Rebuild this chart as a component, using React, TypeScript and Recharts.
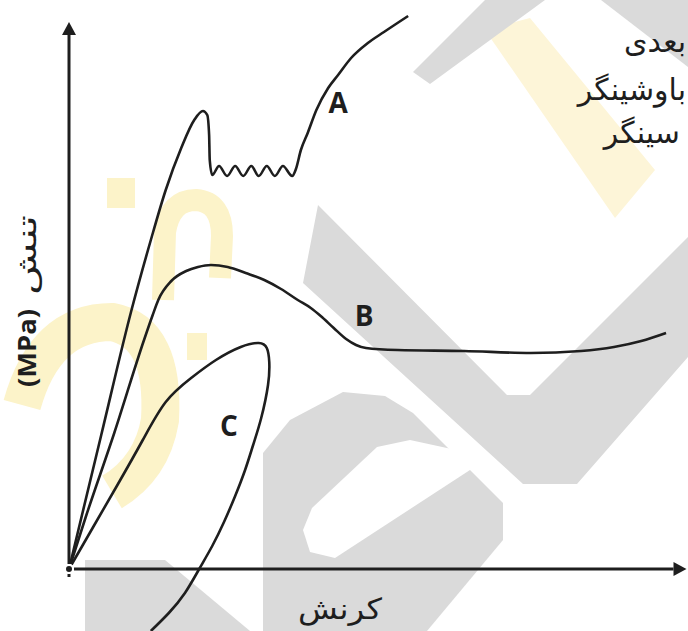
import React from 'react';
import { ComposedChart, Line, XAxis, YAxis, ReferenceLine, ReferenceDot } from 'recharts';

// strain / stress values (arbitrary units)
const strainA = [0, 5.2, 10.0, 13.2, 15.6, 18.1, 20.2, 21.6, 22.3, 22.6, 22.7, 23.1, 24.2, 25.5, 26.8, 28.1, 29.4, 30.6, 31.9, 33.2, 34.5, 36.0, 36.6, 37.4, 38.5, 39.9, 41.8, 43.4, 45.5, 48.2, 50.8, 54.7];
const stressA = [0, 67, 128.5, 164.5, 189.5, 210.5, 224.5, 229, 227, 217, 204.5, 197, 201.5, 196.5, 201.5, 196.5, 201.5, 196.5, 201.5, 196.5, 201.5, 196.5, 200, 209.5, 218, 229.5, 240.5, 247, 255.5, 263, 268.5, 276.5];

const strainB = [0, 2.7, 7.3, 12.1, 13.5, 14.4, 16.5, 18.9, 20.8, 22.9, 25.6, 28.5, 31.5, 34.2, 36.9, 39.0, 40.6, 42.7, 44.7, 46.3, 47.9, 53.0, 63.7, 74.5, 82.6, 87.9, 92.3, 96.3];
const stressB = [0, 26, 68, 114.5, 127, 134.5, 144, 149, 151, 152, 151, 148, 144.5, 140, 134.5, 130.5, 126.5, 120.5, 115, 112, 110.5, 109.5, 109, 108, 109, 111, 114, 118];

const strainC = [0, 3.9, 7.9, 11.9, 15.6, 19.7, 23.7, 27.7, 30.6, 31.9, 32.3, 32.1, 31.0, 29.7, 28.4, 26.8, 25.0, 23.1, 21.0, 18.7, 16.1, 13.2];
const stressC = [0, 21, 42.5, 64.5, 83.5, 95.5, 104.5, 111, 113, 110.5, 103.5, 92, 75.5, 62, 49.5, 36.5, 23.5, 11.5, 0, -12, -22, -31];

const curveNames = ['A', 'B', 'C'];
const curveLabelX = [43.4, 47.6, 25.8];
const curveLabelY = [233.5, 127, 72];

// fragment of the caption text at the top right
const captionLines = ['بعدی', 'باوشینگر', 'سینگر'];

const toPoints = (xs: number[], ys: number[]) => xs.map((x, i) => ({ x, y: ys[i] }));

const dataA = toPoints(strainA, stressA);
const dataB = toPoints(strainB, stressB);
const dataC = toPoints(strainC, stressC);

const INK = '#1e1e1e';
const ARABIC = '"DejaVu Sans", sans-serif';
const LATIN = '"Open Sans", sans-serif';

const arrowLine = (dir: 'right' | 'up') => (p: any) => {
  const { x1, y1, x2, y2 } = p;
  const len = 13;
  const half = 7;
  const head = dir === 'right'
    ? `${x2 + len},${y2} ${x2},${y2 - half} ${x2},${y2 + half}`
    : `${x2},${y2 - len} ${x2 - half},${y2} ${x2 + half},${y2}`;
  return (
    <g>
      <line x1={x1} y1={y1} x2={x2} y2={y2} stroke={INK} strokeWidth={3} />
      <polygon points={head} fill={INK} />
    </g>
  );
};

// stretched text drawn at a reference point (used for the axis titles)
const titleShape = (text: string, font: string, size: number, weight: number, length: number, angle: number) => (p: any) => (
  <text x={p.cx} y={p.cy} transform={angle ? `rotate(${angle} ${p.cx} ${p.cy})` : undefined}
    textAnchor="middle" dominantBaseline="central" fontFamily={font} fontSize={size} fontWeight={weight}
    textLength={length} lengthAdjust="spacingAndGlyphs" fill={INK}>
    {text}
  </text>
);

function Watermark() {
  const grey = '#dadada';
  const yellow = '#fcf3c9';
  return (
    <svg width={688} height={631} style={{ position: 'absolute', left: 0, top: 0 }}>
      <polygon points="485,30 530,18 655,170 615,218" fill="#fdf5d8" />
      <rect x={107} y={178} width={28} height={30} fill={yellow} />
      <rect x={187} y={333} width={20} height={27} fill={yellow} />
      <path d="M 163 300 L 165 232 Q 170 200 196 200 Q 222 202 222 236 L 220 278" stroke={yellow} strokeWidth={22} fill="none" />
      <path d="M 22 405 Q 45 322 112 322 Q 165 332 160 420 Q 152 468 112 492" stroke={yellow} strokeWidth={38} fill="none" />
      <polygon points="318,205 507,395 530,395 688,237 688,357 577,484 523,484 303,283" fill={grey} />
      <polygon points="263,453 290,420 343,392 385,396 413,413 503,503 503,540 427,631 263,631" fill={grey} />
      <polygon points="303,530 312,508 377,447 410,440 470,453 470,470 335,558 310,552" fill="#ffffff" />
      <polygon points="85,560 165,560 250,631 85,631" fill={grey} />
      <polygon points="413,72 485,0 545,0 430,84" fill={grey} />
      <polygon points="601,0 688,0 688,67" fill={grey} />
    </svg>
  );
}

export default function App() {
  const captionRight = [686, 686, 680];
  const captionBase = [52, 100, 143];
  return (
    <div style={{ position: 'absolute', left: 0, top: 0, width: 688, height: 631, background: '#fff', overflow: 'hidden' }}>
      <Watermark />
      <div style={{ position: 'absolute', left: 0, top: 0 }}>
        <ComposedChart width={688} height={631} margin={{ top: 0, right: 0, bottom: 0, left: 0 }}>
          <XAxis type="number" dataKey="x" domain={[-11.13, 99.84]} hide />
          <YAxis type="number" domain={[-31, 284.5]} hide />

          <ReferenceLine segment={[{ x: -0.2, y: 0 }, { x: 97.5, y: 0 }]} shape={arrowLine('right')} />
          <ReferenceLine segment={[{ x: 0, y: -4 }, { x: 0, y: 267 }]} shape={arrowLine('up')} />

          <Line data={dataA} dataKey="y" type="monotone" stroke={INK} strokeWidth={2.6} dot={false} isAnimationActive={false} />
          <Line data={dataB} dataKey="y" type="monotone" stroke={INK} strokeWidth={2.6} dot={false} isAnimationActive={false} />
          <Line data={dataC} dataKey="y" type="natural" stroke={INK} strokeWidth={2.6} dot={false} isAnimationActive={false} />

          {curveNames.map((name, i) => (
            <ReferenceDot
              key={name}
              x={curveLabelX[i]}
              y={curveLabelY[i]}
              r={0}
              ifOverflow="visible"
              shape={(p: any) => (
                <text x={p.cx} y={p.cy} textAnchor="middle" dominantBaseline="central"
                  fontFamily={LATIN} fontWeight={700} fontSize={28} fill={INK}>
                  {name}
                </text>
              )}
            />
          ))}

          <ReferenceDot x={-6.9} y={110.5} r={0} ifOverflow="visible" shape={titleShape('(MPa)', LATIN, 25, 700, 78, -90)} />
          <ReferenceDot x={-6.9} y={157} r={0} ifOverflow="visible" shape={titleShape('تنش', ARABIC, 27, 400, 80, -90)} />
          <ReferenceDot x={43.7} y={-20} r={0} ifOverflow="visible" shape={titleShape('کرنش', ARABIC, 29, 400, 84, 0)} />
        </ComposedChart>
      </div>
      <svg width={688} height={631} style={{ position: 'absolute', left: 0, top: 0, pointerEvents: 'none' }}>
        {captionLines.map((line, i) => (
          <text key={line} x={captionRight[i]} y={captionBase[i]} textAnchor="end"
            fontFamily={ARABIC} fontSize={30} fill={INK}>
            {line}
          </text>
        ))}
      </svg>
    </div>
  );
}
